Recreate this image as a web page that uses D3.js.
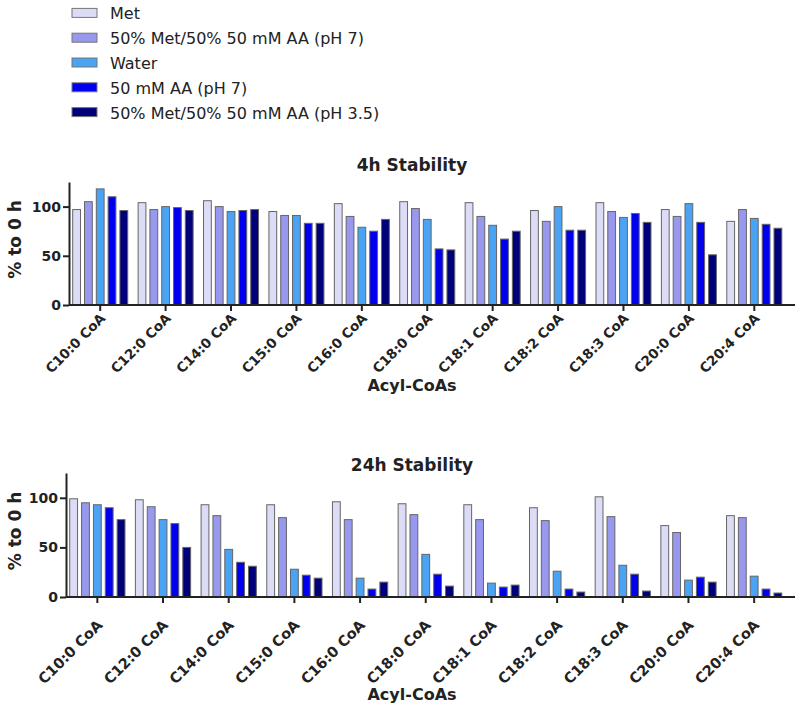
<!DOCTYPE html>
<html lang="en">
<head>
    <meta charset="utf-8">
    <title>Acyl-CoA Stability</title>
    <script src="https://cdn.jsdelivr.net/npm/d3@7/dist/d3.min.js"></script>
    <style type="text/css">
        body {
            margin: 0;
            background: #fff;
            font-family: "DejaVu Sans", sans-serif;
        }
        .axis path,
        .axis line {
            fill: none;
            stroke: #222;
            stroke-width: 2px;
        }
        .axis text {
            font-family: "DejaVu Sans", sans-serif;
            font-weight: bold;
            font-size: 14px;
            fill: #222;
        }
        .label {
            font-weight: bold;
            fill: #222;
        }
    </style>
</head>
<body>
<script type="text/javascript">

    var width = 800,
        height = 707;

    var categories = ["C10:0 CoA", "C12:0 CoA", "C14:0 CoA", "C15:0 CoA", "C16:0 CoA", "C18:0 CoA",
        "C18:1 CoA", "C18:2 CoA", "C18:3 CoA", "C20:0 CoA", "C20:4 CoA"];

    var series = ["Met", "50% Met/50% 50 mM AA (pH 7)", "Water", "50 mM AA (pH 7)", "50% Met/50% 50 mM AA (pH 3.5)"];

    var colors = ["#dcdcf7", "#9898ee", "#4ba3f3", "#0000ee", "#00007a"];

    var yTicks = [0, 50, 100];

    // 4h stability, % relative to 0 h, one array per condition
    var met4h    = [97, 104, 106, 95, 103, 105, 104, 96, 104, 97, 85];
    var mix7_4h  = [105, 97, 100, 91, 90, 98, 90, 85, 95, 90, 97];
    var water4h  = [118, 100, 95, 91, 79, 87, 81, 100, 89, 103, 88];
    var aa7_4h   = [110, 99, 96, 83, 75, 57, 67, 76, 93, 84, 82];
    var mix35_4h = [96, 96, 97, 83, 87, 56, 75, 76, 84, 51, 78];

    // 24h stability
    var met24h    = [99, 98, 93, 93, 96, 94, 93, 90, 101, 72, 82];
    var mix7_24h  = [95, 91, 82, 80, 78, 83, 78, 77, 81, 65, 80];
    var water24h  = [93, 78, 48, 28, 19, 43, 14, 26, 32, 17, 21];
    var aa7_24h   = [90, 74, 35, 22, 8, 23, 10, 8, 23, 20, 8];
    var mix35_24h = [78, 50, 31, 19, 15, 11, 12, 5, 6, 15, 4];

    var svg = d3.select("body").append("svg")
        .attr("width", width)
        .attr("height", height);

    // legend
    var legend = svg.append("g").attr("class", "legend");
    var legendRow = d3.scaleBand().domain(series).range([1, 125]);

    legend.selectAll("rect")
        .data(series).enter()
        .append("rect")
        .attr("x", 72)
        .attr("y", function (d) { return legendRow(d) + legendRow.bandwidth() / 2 - 5; })
        .attr("width", 25)
        .attr("height", 9)
        .attr("fill", function (d, i) { return colors[i]; })
        .attr("stroke", "#777")
        .attr("stroke-width", 1);

    legend.selectAll("text")
        .data(series).enter()
        .append("text")
        .attr("x", 110)
        .attr("y", function (d) { return legendRow(d) + legendRow.bandwidth() / 2 + 6; })
        .style("font-size", "16px")
        .style("fill", "#222")
        .text(function (d) { return d; });

    function drawChart(opts) {
        var g = svg.append("g");

        var x0 = d3.scaleBand()
            .domain(categories)
            .range([opts.axisX - 1.5, 787]);

        var x1 = d3.scaleBand()
            .domain(series)
            .range([0, x0.bandwidth()])
            .paddingInner(0.34)
            .paddingOuter(0.44);

        var y = d3.scaleLinear()
            .domain([0, 125])
            .range([opts.zeroY, opts.topY]);

        var rows = categories.map(function (c, i) {
            return series.map(function (s, j) {
                return {cat: c, series: s, idx: j, value: opts.values[j][i]};
            });
        });

        g.selectAll("g.group")
            .data(rows).enter()
            .append("g")
            .attr("class", "group")
            .attr("transform", function (d) { return "translate(" + x0(d[0].cat) + ",0)"; })
            .selectAll("rect")
            .data(function (d) { return d; }).enter()
            .append("rect")
            .attr("x", function (d) { return x1(d.series); })
            .attr("y", function (d) { return y(d.value); })
            .attr("width", x1.bandwidth())
            .attr("height", function (d) { return y(0) - y(d.value); })
            .attr("fill", function (d) { return colors[d.idx]; })
            .attr("stroke", "#666")
            .attr("stroke-width", 1);

        // y axis
        g.append("g")
            .attr("class", "axis")
            .attr("transform", "translate(" + opts.axisX + ",0)")
            .call(d3.axisLeft(y).tickValues(yTicks).tickSize(6).tickSizeOuter(0).tickPadding(2));

        // x axis
        var xAxis = g.append("g")
            .attr("class", "axis")
            .attr("transform", "translate(0," + opts.zeroY + ")")
            .call(d3.axisBottom(x0).tickSize(6).tickSizeOuter(0));
        xAxis.select(".domain").remove();
        xAxis.append("line")
            .attr("x1", opts.axisX)
            .attr("x2", 795)
            .attr("y1", 0)
            .attr("y2", 0);
        xAxis.selectAll(".tick text")
            .style("text-anchor", "end")
            .style("font-size", opts.labelSize)
            .attr("dy", 0)
            .attr("y", 0)
            .attr("transform", "translate(6," + opts.labelDy + ") rotate(-45)");

        g.append("text")
            .attr("class", "label")
            .attr("x", 412)
            .attr("y", opts.titleY)
            .style("font-size", "17px")
            .style("text-anchor", "middle")
            .text(opts.title);

        g.append("text")
            .attr("class", "label")
            .attr("x", 412)
            .attr("y", opts.xLabelY)
            .style("font-size", "16px")
            .style("text-anchor", "middle")
            .text("Acyl-CoAs");

        g.append("text")
            .attr("class", "label")
            .attr("transform", "translate(21," + ((opts.topY + opts.zeroY) / 2 - 4) + ") rotate(-90)")
            .style("font-size", "17px")
            .style("text-anchor", "middle")
            .text("% to 0 h");
    }

    drawChart({
        title: "4h Stability",
        values: [met4h, mix7_4h, water4h, aa7_4h, mix35_4h],
        axisX: 69,
        zeroY: 305,
        topY: 182,
        titleY: 171,
        labelDy: 14,
        labelSize: "13.5px",
        xLabelY: 391
    });

    drawChart({
        title: "24h Stability",
        values: [met24h, mix7_24h, water24h, aa7_24h, mix35_24h],
        axisX: 66,
        zeroY: 597,
        topY: 473,
        titleY: 471,
        labelDy: 29,
        labelSize: "14.5px",
        xLabelY: 700
    });

</script>
</body>
</html>
